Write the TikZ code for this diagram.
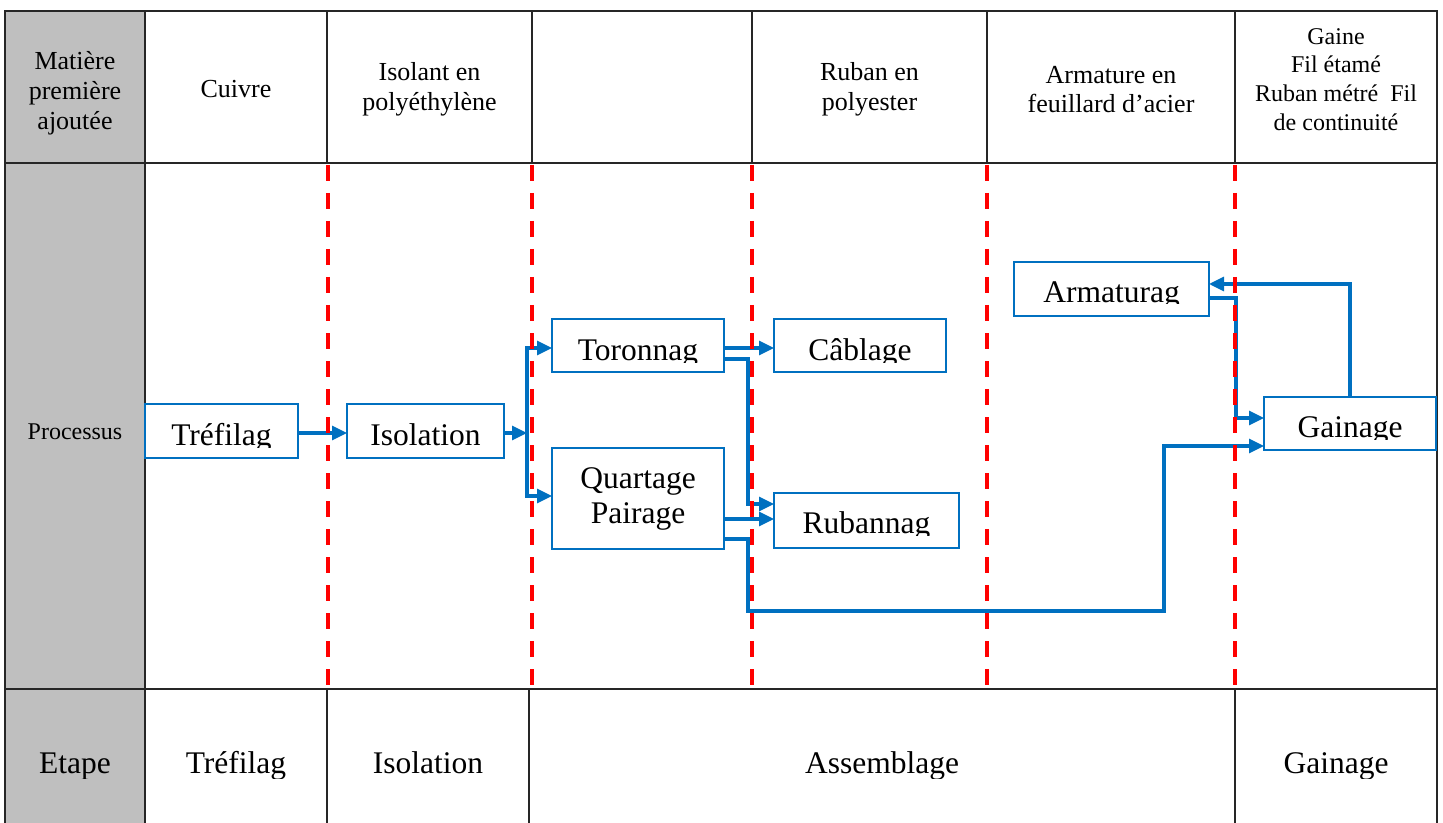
\documentclass[tikz,border=0pt]{standalone}
\usepackage{fontspec}
\setmainfont{Liberation Serif}
\usetikzlibrary{arrows.meta}

\definecolor{flowblue}{RGB}{0,112,192}
\definecolor{cellgray}{RGB}{191,191,191}
\definecolor{stagered}{RGB}{255,0,0}

% Process step label, cut just below its baseline by the box interior
% #1 box name, #2 text, #3 baseline y, #4 cut y
\newcommand\cutlabel[4]{%
  \begin{scope}
    \clip (#1.north west) rectangle (#1.south east |- 0,#4);
    \node[boxtext, anchor=base] (#1-txt) at (#1.center |- 0,#3) {#2};
  \end{scope}}

\begin{document}
\begin{tikzpicture}[x=0.5pt, y=-0.5pt,
  procbox/.style={draw=flowblue, line width=1.35pt, inner sep=0pt, outer sep=0pt},
  boxtext/.style={font=\fontsize{15.75pt}{17.5pt}\selectfont, inner sep=0pt, align=center},
  hdr/.style={font=\fontsize{13pt}{14.9pt}\selectfont, inner sep=0pt, align=center},
  hdrsmall/.style={font=\fontsize{12pt}{14.35pt}\selectfont, inner sep=0pt, align=center},
  steptext/.style={font=\fontsize{15.75pt}{17.5pt}\selectfont, inner sep=0pt, anchor=base},
  conn/.style={draw=flowblue, line width=1.6pt, -{Triangle[length=7.5pt,width=7pt]}},
  stageline/.style={draw=stagered, line width=2pt, dash pattern=on 8pt off 6pt},
  outline/.style={draw=black!85, line width=1pt},
  cellline/.style={draw=black!85, line width=0.75pt}]

\useasboundingbox (0,0) rectangle (1443,823);

% ---- table frame ----
\fill[cellgray] (5,11.5) rectangle (145,840);
\draw[outline] (5,840) -- (5,11.5) -- (1437,11.5) -- (1437,840);
\draw[outline] (5,163) -- (1437,163);
\draw[draw=black!85, line width=1.3pt] (5,689) -- (1437,689);
\draw[cellline] (145,11.5) -- (145,840);
\foreach \cx in {327,532,752,987,1235}
  \draw[cellline] (\cx,11.5) -- (\cx,163);
\foreach \cx in {327,529,1235}
  \draw[cellline] (\cx,689) -- (\cx,840);

% ---- header row: raw materials ----
\node[hdr] (hm) at (75,93) {Matière\\première\\ajoutée};
\node[hdr] (hcu) at (236,89) {Cuivre};
\node[hdr] (hpe) at (429.5,89.5) {Isolant en\\polyéthylène};
\node[hdr] (hpo) at (869.5,89.5) {Ruban en\\polyester};
\node[hdr] (hac) at (1111,89.5) {Armature en\\feuillard d’acier};
\node[hdrsmall] (hga) at (1336,79.5) {Gaine\\Fil étamé\\Ruban métré~ Fil\\de continuité};

\node[font=\fontsize{12pt}{14pt}\selectfont, inner sep=0pt] (proc) at (75,432) {Processus};

% ---- process boxes ----
\node[procbox, minimum width=76.5pt, minimum height=27pt]   (tref)  at (221.5,431)  {};
\node[procbox, minimum width=78.5pt, minimum height=27pt]   (iso)   at (425.5,431)  {};
\node[procbox, minimum width=86pt,   minimum height=26.5pt] (toron) at (638,345.5)  {};
\node[procbox, minimum width=86pt,   minimum height=26.5pt] (cabl)  at (860,345.5)  {};
\node[procbox, boxtext, minimum width=86pt, minimum height=50.5pt] (quart) at (638,498.5) {Quartage\\Pairage};
\node[procbox, minimum width=92.5pt, minimum height=27.5pt] (ruban) at (866.5,520.5) {};
\node[procbox, minimum width=97.5pt, minimum height=27pt]   (armat) at (1111.5,289) {};
\node[procbox, minimum width=86pt,   minimum height=26.5pt] (gain)  at (1350,423.5) {};

\cutlabel{tref}{Tréfilag}{445}{447}
\cutlabel{iso}{Isolation}{445}{447}
\cutlabel{toron}{Toronnag}{360}{362}
\cutlabel{cabl}{Câblage}{360}{362}
\cutlabel{ruban}{Rubannag}{533.5}{535.5}
\cutlabel{armat}{Armaturag}{302}{304}
\cutlabel{gain}{Gainage}{437}{439}

% ---- flow connectors ----
\coordinate (split) at (527,433);
\draw[conn] (tref.east |- 0,433) -- (iso.west |- 0,433);
\draw[conn] (iso.east |- 0,433) -- (split);
\draw[conn] (split) |- (toron.west |- 0,348);
\draw[conn] (split) |- (quart.west |- 0,496);
\draw[conn] (toron.east |- 0,348) -- (cabl.west |- 0,348);
\draw[conn] (toron.east |- 0,359) -| (748,504) -- (ruban.west |- 0,504);
\draw[conn] (quart.east |- 0,519) -- (ruban.west |- 0,519);
\draw[conn] (quart.east |- 0,539) -| (748,611) -| (1164,446) -- (gain.west |- 0,446);
\draw[conn] (armat.east |- 0,298) -| (1236,418) -- (gain.west |- 0,418);
\draw[conn] (gain.north) |- (armat.east |- 0,284);

% ---- stage boundaries ----
\foreach \sx in {327.5,531.5,752,987,1235}
  \draw[stageline] (\sx,165) -- (\sx,688);

% ---- bottom row: stages ----
\begin{scope}
  \clip (5,690) rectangle (1437,778.5);
  \node[steptext] (se) at (75,773)   {Etape};
  \node[steptext] (st) at (236,773)  {Tréfilag};
  \node[steptext] (si) at (428,773)  {Isolation};
  \node[steptext] (sa) at (882,773)  {Assemblage};
  \node[steptext] (sg) at (1336,773) {Gainage};
\end{scope}

\end{tikzpicture}
\end{document}
